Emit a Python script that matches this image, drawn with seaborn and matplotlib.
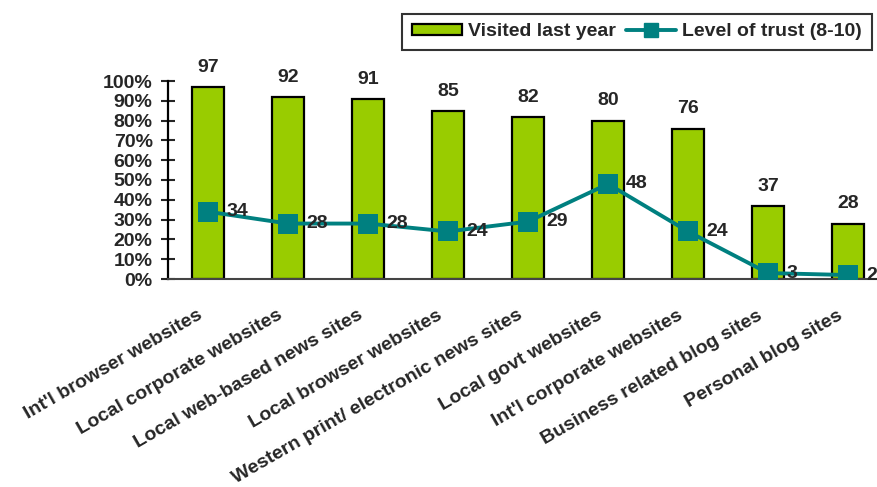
import numpy as np
import pandas as pd
import matplotlib
matplotlib.use("Agg")
import matplotlib.pyplot as plt
import matplotlib.transforms as mtransforms
import seaborn as sns
from matplotlib.lines import Line2D
from matplotlib.patches import Patch

categories = [
    "Int'l browser websites",
    "Local corporate websites",
    "Local web-based news sites",
    "Local browser websites",
    "Western print/ electronic news sites",
    "Local govt websites",
    "Int'l corporate websites",
    "Business related blog sites",
    "Personal blog sites",
]
visited = [97, 92, 91, 85, 82, 80, 76, 37, 28]
trust = [34, 28, 28, 24, 29, 48, 24, 3, 2]
y_ticks = [0, 10, 20, 30, 40, 50, 60, 70, 80, 90, 100]

BAR_COLOR = "#99CC00"
LINE_COLOR = "#008080"

sns.set_style("white")
plt.rcParams["font.family"] = ["Liberation Sans", "DejaVu Sans"]
plt.rcParams["font.weight"] = "bold"

fig = plt.figure(figsize=(8.78, 4.87), dpi=100)
W, H = 878, 487
left, right, top, bottom = 168, 888, 81, 279
ax = fig.add_axes([left / W, 1 - bottom / H, (right - left) / W, (bottom - top) / H])

df = pd.DataFrame({"category": categories, "visited": visited, "trust": trust})
sns.barplot(data=df, x="category", y="visited", color=BAR_COLOR, saturation=1,
            width=0.39, edgecolor="black", linewidth=1.6, ax=ax)
xs = np.arange(len(categories))
sns.lineplot(x=xs, y=trust, color=LINE_COLOR, linewidth=2.8, marker="s",
             markersize=14, markeredgewidth=0, ax=ax, zorder=5)
ax.set_xlim(-0.5, len(categories) - 0.5)
ax.set_ylim(0, 100)
ax.set_xlabel("")
ax.set_ylabel("")

for x, v in zip(xs, visited):
    ax.annotate(str(v), (x, v), xytext=(0, 8), textcoords="offset points",
                ha="center", va="bottom", fontsize=14, fontweight="bold")
for x, v in zip(xs, trust):
    ax.annotate(str(v), (x, v), xytext=(13, 0), textcoords="offset points",
                ha="left", va="center", fontsize=14, fontweight="bold", zorder=6)

ax.set_yticks(y_ticks)
ax.set_yticklabels([f"{t}%" for t in y_ticks], fontsize=14, fontweight="bold")
ax.tick_params(axis="y", direction="inout", length=10, width=1.5, pad=6, left=True)

ax.set_xticks(xs)
ax.set_xticklabels(categories, rotation=30, ha="right", rotation_mode="anchor",
                   fontsize=14, fontweight="bold")
ax.tick_params(axis="x", which="major", length=0, pad=20)
shift = mtransforms.ScaledTranslation(-11 / 100, 0, fig.dpi_scale_trans)
for lbl in ax.get_xticklabels():
    lbl.set_transform(lbl.get_transform() + shift)
ax.set_xticks(np.arange(len(categories) - 1) + 0.5, minor=True)
ax.tick_params(axis="x", which="minor", direction="in", length=6, width=1, color="#333333")

for s in ["top", "right"]:
    ax.spines[s].set_visible(False)
ax.spines["left"].set_color("black")
ax.spines["left"].set_linewidth(1.6)
ax.spines["bottom"].set_color("#444444")
ax.spines["bottom"].set_linewidth(1.5)

handles = [
    Patch(facecolor=BAR_COLOR, edgecolor="black", linewidth=1.6, label="Visited last year"),
    Line2D([0], [0], color=LINE_COLOR, linewidth=2.8, marker="s", markersize=10,
           label="Level of trust (8-10)"),
]
leg = fig.legend(handles=handles, loc="upper right", bbox_to_anchor=(1.004, 0.992),
                 ncol=2, frameon=True, fancybox=False,
                 prop={"weight": "bold", "size": 14}, handlelength=2.6,
                 handleheight=0.5, columnspacing=0.5, handletextpad=0.3, borderpad=0.5)
leg.get_frame().set_edgecolor("black")
leg.get_frame().set_linewidth(1.5)

fig.savefig("out.png", dpi=100)
